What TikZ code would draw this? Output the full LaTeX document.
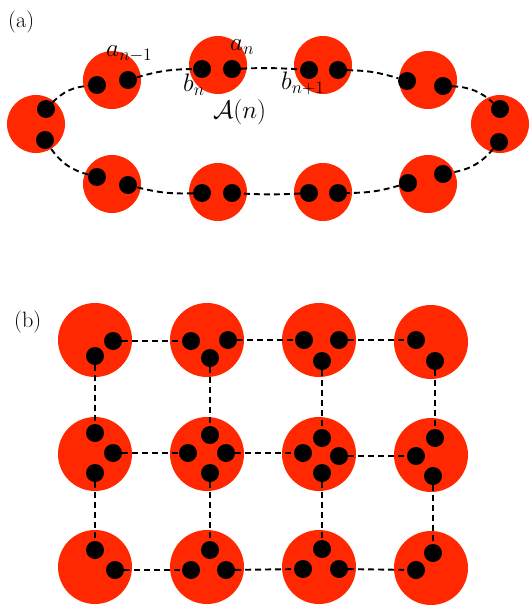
\documentclass[tikz,border=0pt]{standalone}
\definecolor{myred}{RGB}{255,40,0}
\begin{document}
\begin{tikzpicture}[x=1pt,y=1pt,
  redc/.style={circle,fill=myred,inner sep=0pt,minimum size=58pt},
  redb/.style={circle,fill=myred,inner sep=0pt,minimum size=74pt},
  dot/.style={circle,fill=black,inner sep=0pt,minimum size=18pt},
  link/.style={line width=1.9pt,dash pattern=on 6pt off 4pt},
  lab/.style={inner sep=0pt,anchor=base west,font=\huge,scale=1.07},
  mlab/.style={inner sep=0pt,anchor=base west,font=\huge,scale=1.22}]
\useasboundingbox (0,0) rectangle (529,-607);
% ---------- (a) ----------
\node[lab] (la) at (8,-28) {(a)};
\node[redc] (A1) at (36,-124) {};
\node[redc] (A2) at (112,-80) {};
\node[redc] (A3) at (218,-65) {};
\node[redc] (A4) at (323,-65) {};
\node[redc] (A5) at (428,-80) {};
\node[redc] (A6) at (500,-124) {};
\node[redc] (A7) at (428,-184) {};
\node[redc] (A8) at (323,-192) {};
\node[redc] (A9) at (218,-192) {};
\node[redc] (A10) at (112,-184) {};
\node[dot] (p1t) at (46,-109) {};
\node[dot] (p1b) at (45,-140) {};
\node[dot] (p2l) at (97,-85) {};
\node[dot] (p2r) at (128,-80) {};
\node[dot] (p3l) at (202,-69) {};
\node[dot] (p3r) at (232,-69) {};
\node[dot] (p4l) at (309,-70) {};
\node[dot] (p4r) at (338,-70) {};
\node[dot] (p5l) at (407,-81) {};
\node[dot] (p5r) at (443,-86) {};
\node[dot] (p6t) at (500,-109) {};
\node[dot] (p6b) at (499,-142) {};
\node[dot] (p7r) at (443,-174) {};
\node[dot] (p7l) at (408,-183) {};
\node[dot] (p8r) at (338,-193) {};
\node[dot] (p8l) at (309,-193) {};
\node[dot] (p9r) at (232,-193) {};
\node[dot] (p9l) at (202,-193) {};
\node[dot] (p10r) at (128,-185) {};
\node[dot] (p10l) at (97,-177) {};
\draw[link] (p1t) to[bend left=20] (p2l);
\draw[link] (p2r) to[bend left=8] (p3l);
\draw[link] (p3r) to[bend left=3] (p4l);
\draw[link] (p4r) to[bend left=8] (p5l);
\draw[link] (p5r) to[bend left=20] (p6t);
\draw[link] (p6b) to[bend left=20] (p7r);
\draw[link] (p7l) to[bend left=8] (p8r);
\draw[link] (p8l) to[bend left=3] (p9r);
\draw[link] (p9l) to[bend left=8] (p10r);
\draw[link] (p10l) to[bend left=20] (p1b);
\node[mlab] (lan1) at (106,-57) {$a_{n-1}$};
\node[mlab] (lan) at (230,-51) {$a_n$};
\node[mlab] (lbn) at (183,-92) {$b_n$};
\node[mlab] (lbn1) at (281,-90) {$b_{n+1}$};
\node[mlab] (lA) at (213,-118) {$\mathcal{A}(n)$};
% ---------- (b) ----------
\node[lab] (lb) at (14,-327) {(b)};
\node[redb] (B11) at (95,-340) {};
\node[redb] (B12) at (207,-340) {};
\node[redb] (B13) at (319,-340) {};
\node[redb] (B14) at (431,-342) {};
\node[redb] (B21) at (95,-454) {};
\node[redb] (B22) at (207,-454) {};
\node[redb] (B23) at (319,-454) {};
\node[redb] (B24) at (431,-455) {};
\node[redb] (B31) at (95,-567) {};
\node[redb] (B32) at (207,-567) {};
\node[redb] (B33) at (319,-567) {};
\node[redb] (B34) at (431,-568) {};
% row 1 dots
\node[dot] (q11r) at (113,-341) {};
\node[dot] (q11b) at (95,-356) {};
\node[dot] (q12l) at (191,-341) {};
\node[dot] (q12r) at (228,-340) {};
\node[dot] (q12b) at (210,-358) {};
\node[dot] (q13l) at (304,-340) {};
\node[dot] (q13r) at (339,-340) {};
\node[dot] (q13b) at (322,-361) {};
\node[dot] (q14l) at (416,-340) {};
\node[dot] (q14b) at (435,-361) {};
% row 2 dots
\node[dot] (q21t) at (95,-433) {};
\node[dot] (q21r) at (113,-453) {};
\node[dot] (q21b) at (95,-473) {};
\node[dot] (q22t) at (210,-435) {};
\node[dot] (q22l) at (188,-453) {};
\node[dot] (q22r) at (226,-453) {};
\node[dot] (q22b) at (210,-473) {};
\node[dot] (q23t) at (322,-438) {};
\node[dot] (q23l) at (303,-453) {};
\node[dot] (q23r) at (339,-456) {};
\node[dot] (q23b) at (322,-473) {};
\node[dot] (q24t) at (435,-438) {};
\node[dot] (q24l) at (416,-456) {};
\node[dot] (q24b) at (433,-476) {};
% row 3 dots
\node[dot] (q31t) at (95,-550) {};
\node[dot] (q31r) at (115,-570) {};
\node[dot] (q32t) at (210,-550) {};
\node[dot] (q32l) at (191,-570) {};
\node[dot] (q32r) at (226,-570) {};
\node[dot] (q33t) at (322,-549) {};
\node[dot] (q33l) at (303,-569) {};
\node[dot] (q33r) at (339,-569) {};
\node[dot] (q34t) at (433,-553) {};
\node[dot] (q34l) at (416,-570) {};
% horizontal links
\draw[link] (q11r) -- (q12l);
\draw[link] (q12r) -- (q13l);
\draw[link] (q13r) -- (q14l);
\draw[link] (q21r) -- (q22l);
\draw[link] (q22r) -- (q23l);
\draw[link] (q23r) -- (q24l);
\draw[link] (q31r) -- (q32l);
\draw[link] (q32r) -- (q33l);
\draw[link] (q33r) -- (q34l);
% vertical links
\draw[link] (q11b) -- (q21t);
\draw[link] (q21b) -- (q31t);
\draw[link] (q12b) -- (q22t);
\draw[link] (q22b) -- (q32t);
\draw[link] (q13b) -- (q23t);
\draw[link] (q23b) -- (q33t);
\draw[link] (q14b) -- (q24t);
\draw[link] (q24b) -- (q34t);
\end{tikzpicture}
\end{document}
